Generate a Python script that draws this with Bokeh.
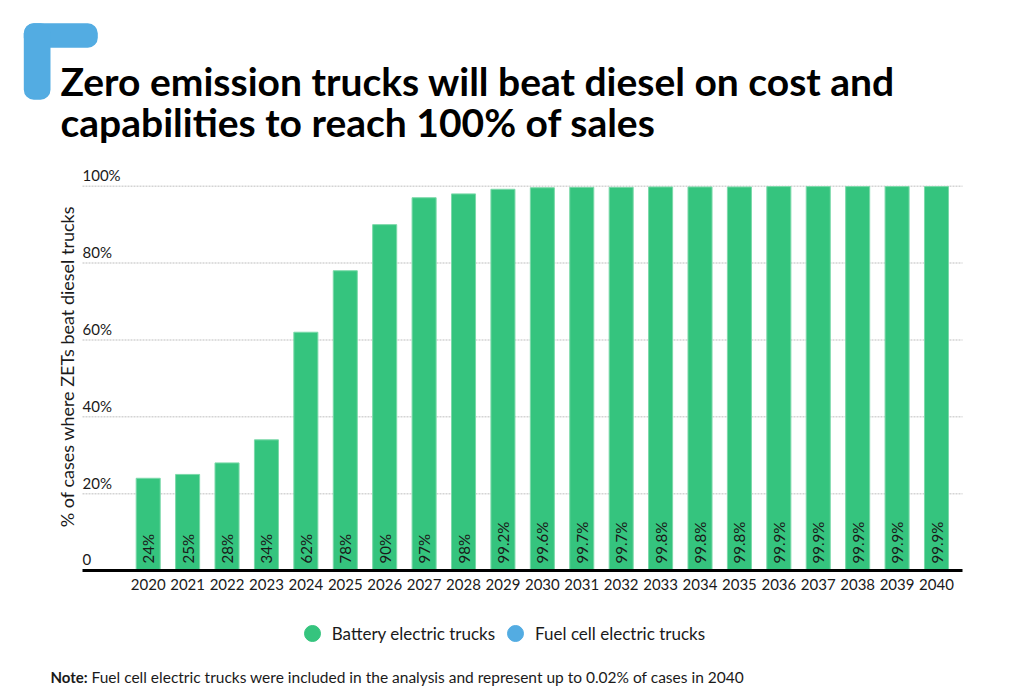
import math
from bokeh.plotting import figure
from bokeh.models import (Label, Legend, LegendItem, FixedTicker, BoxAnnotation,
                          ColumnDataSource, Range1d)
from bokeh.core.properties import value
from bokeh.embed import file_html
from bokeh.resources import INLINE

# ---------------- data ----------------
years = [2020, 2021, 2022, 2023, 2024, 2025, 2026, 2027, 2028, 2029, 2030,
         2031, 2032, 2033, 2034, 2035, 2036, 2037, 2038, 2039, 2040]
battery = [24, 25, 28, 34, 62, 78, 90, 97, 98, 99.2, 99.6,
           99.7, 99.7, 99.8, 99.8, 99.8, 99.9, 99.9, 99.9, 99.9, 99.9]
fuel_cell = [0, 0, 0, 0, 0, 0, 0, 0, 0, 0, 0,
             0, 0, 0, 0, 0, 0.01, 0.01, 0.01, 0.02, 0.02]
bar_labels = ["24%", "25%", "28%", "34%", "62%", "78%", "90%", "97%", "98%",
              "99.2%", "99.6%", "99.7%", "99.7%", "99.8%", "99.8%", "99.8%",
              "99.9%", "99.9%", "99.9%", "99.9%", "99.9%"]
y_ticks = [0, 20, 40, 60, 80, 100]
y_tick_labels = ["0", "20%", "40%", "60%", "80%", "100%"]
series_names = ["Battery electric trucks", "Fuel cell electric trucks"]

title_lines = ["Zero emission trucks will beat diesel on cost and",
               "capabilities to reach 100% of sales"]
y_title = "% of cases where ZETs beat diesel trucks"
note_bold = "Note:"
note_text = ("Fuel cell electric trucks were included in the analysis and "
             "represent up to 0.02% of cases in 2040")

# ---------------- layout / style ----------------
FONT = "Lato"
GREEN = "#35c47e"
GREEN_EDGE = "#7bd9a9"
BLUE = "#53ace2"
TEXT = "#1a1a1a"

W, H = 1008, 690
# pixel targets of the plotting area (canvas px, y down)
PX_FIRST, PX_LAST = 147.7, 936.0       # centres of first / last bar
PY_ZERO, PY_HUNDRED = 570.0, 185.7     # 0 and 100 %
PX_LEFT, PX_RIGHT = 82.0, 962.0        # extent of axis line / gridlines

XS = (PX_LAST - PX_FIRST) / (years[-1] - years[0])   # px per year
YS = (PY_ZERO - PY_HUNDRED) / 100.0                   # px per percent
x_start = years[0] - PX_FIRST / XS
x_end = x_start + W / XS
y_end = PY_ZERO / YS
y_start = -(H - PY_ZERO) / YS


def xd(px):
    return x_start + px / XS


p = figure(width=W, height=H, output_backend="svg", toolbar_location=None,
           x_range=Range1d(x_start, x_end), y_range=Range1d(y_start, y_end),
           min_border=0)
p.outline_line_color = None
p.background_fill_color = "white"
p.border_fill_color = "white"

src = ColumnDataSource(dict(year=years, battery=battery, fuel=fuel_cell,
                            lab=bar_labels))

# gridlines (drawn first, under the bars)
p.segment(x0=xd(PX_LEFT), x1=xd(PX_RIGHT), y0=y_ticks[1:], y1=y_ticks[1:],
          line_color="#d4d4d4", line_width=1.5, line_dash="2 1")

p.vbar_stack(["battery", "fuel"], x="year", width=0.61, source=src,
             fill_color=[GREEN, BLUE], line_color=[GREEN_EDGE, None],
             line_width=1)

# axes
p.yaxis.visible = False
p.xgrid.visible = False
p.ygrid.visible = False

xa = p.xaxis[0]
xa.fixed_location = 0
xa.bounds = (xd(PX_LEFT), xd(PX_RIGHT))
xa.ticker = FixedTicker(ticks=years)
xa.axis_line_color = "black"
xa.axis_line_width = 3
xa.major_tick_line_color = None
xa.minor_tick_line_color = None
xa.major_label_text_font = FONT
xa.major_label_text_font_size = "15px"
xa.major_label_text_color = TEXT
xa.major_label_standoff = 2

# y tick labels above gridlines
p.text(x=[xd(PX_LEFT)] * len(y_ticks), y=y_ticks, text=y_tick_labels,
       text_font=value(FONT), text_font_size="15px", text_color=TEXT,
       text_align="left", text_baseline="middle", y_offset=-11)

# rotated value labels inside bars
p.text(x="year", y=0, text="lab", source=src, angle=math.pi / 2,
       text_font=value(FONT), text_font_size="15px", text_color=TEXT,
       text_align="left", text_baseline="middle", y_offset=-7)


# helpers: canvas pixel (y down) -> frame screen units (y up)
def sx(X):
    return X


def sy(Y):
    return H - Y


# title
for line, mid in zip(title_lines, [80.0, 121.5]):
    p.add_layout(Label(x=sx(60), y=sy(mid), x_units="screen", y_units="screen",
                       text=line, text_font=FONT, text_font_style="bold",
                       text_font_size="39px", text_color="black",
                       text_baseline="middle", text_align="left"))

# y axis title
p.add_layout(Label(x=sx(66), y=sy(366), x_units="screen", y_units="screen",
                   text=y_title, angle=math.pi / 2, text_font=FONT,
                   text_font_size="18px", text_color=TEXT,
                   text_align="center", text_baseline="middle"))

# note
p.add_layout(Label(x=sx(50), y=sy(676.5), x_units="screen", y_units="screen",
                   text=note_bold, text_font=FONT, text_font_style="bold",
                   text_font_size="15px", text_color=TEXT,
                   text_baseline="middle"))
p.add_layout(Label(x=sx(91), y=sy(676.5), x_units="screen", y_units="screen",
                   text=note_text, text_font=FONT,
                   text_font_size="15.5px", text_color=TEXT,
                   text_baseline="middle"))

# logo (canvas units)
for l, r, t, b in [(23.3, 97.3, 22.7, 47.3), (23.3, 50.0, 22.7, 99.3)]:
    p.add_layout(BoxAnnotation(left=l, right=r, top=t, bottom=b,
                               left_units="canvas", right_units="canvas",
                               top_units="canvas", bottom_units="canvas",
                               fill_color=BLUE, fill_alpha=1, line_color=None,
                               border_radius=10))

# legend with circle markers (legend-only renderers, nothing drawn in plot)
nan = float("nan")
r1 = p.scatter(x=[nan], y=[nan], marker="circle", color=GREEN)
r2 = p.scatter(x=[nan], y=[nan], marker="circle", color=BLUE)
legend = Legend(items=[LegendItem(label=series_names[0], renderers=[r1]),
                       LegendItem(label=series_names[1], renderers=[r2])],
                location=(sx(291.7), sy(653.3)), orientation="horizontal",
                glyph_width=40, glyph_height=40, label_standoff=0, spacing=0,
                padding=0, margin=0, border_line_color=None,
                background_fill_alpha=0, label_text_font=FONT,
                label_text_font_size="17px", label_text_color=TEXT)
p.add_layout(legend, "center")

open("out.html", "w").write(file_html(p, INLINE))
